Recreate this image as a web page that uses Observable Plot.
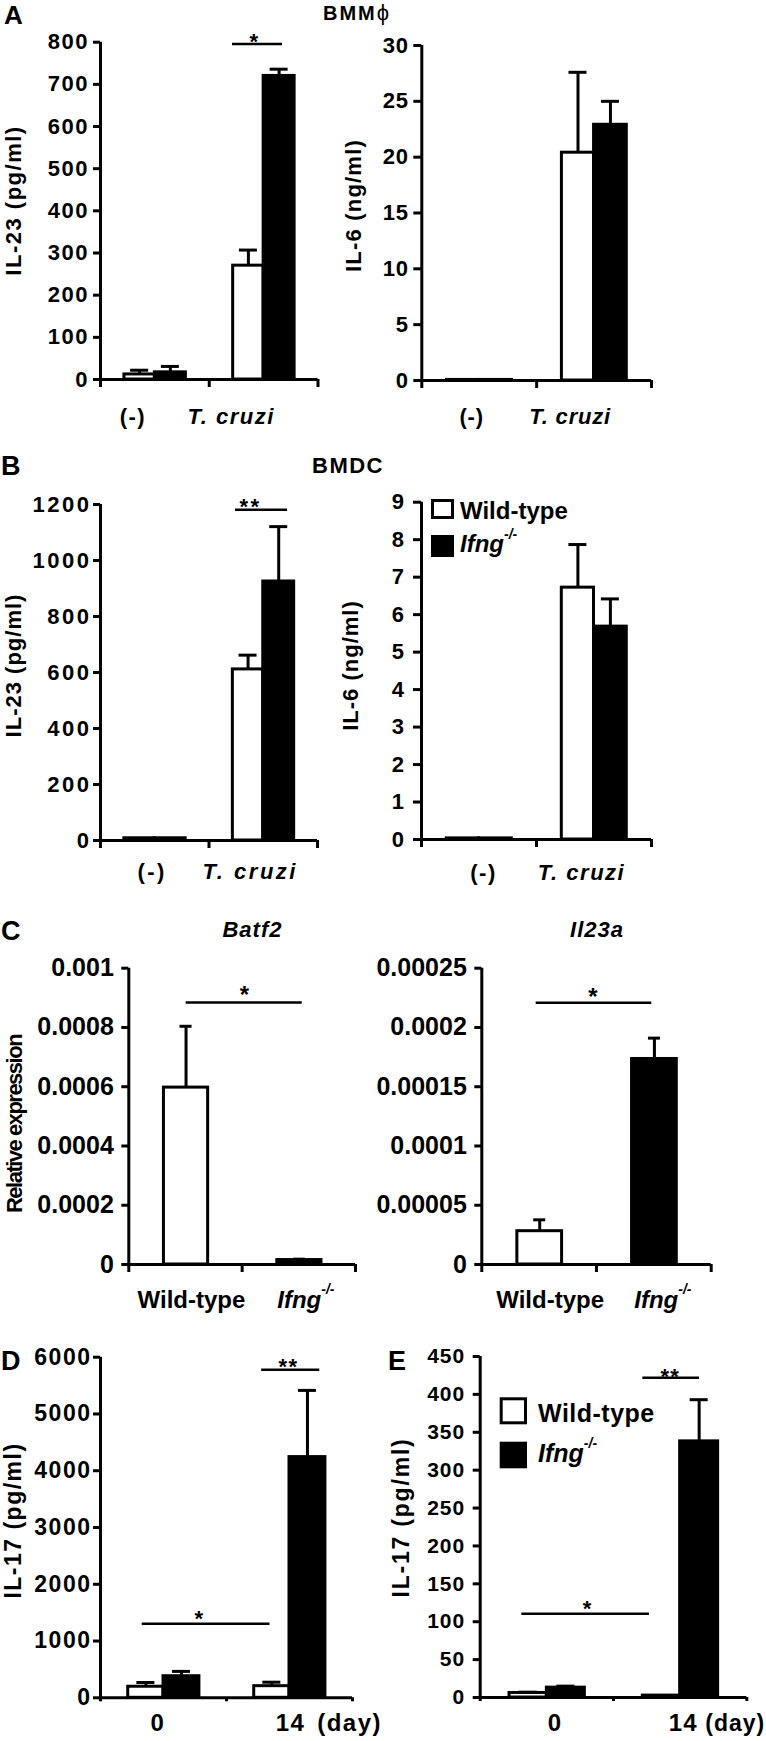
<!DOCTYPE html>
<html>
<head>
<meta charset="utf-8">
<script src="https://cdn.jsdelivr.net/npm/d3@7"></script>
<script src="https://cdn.jsdelivr.net/npm/@observablehq/plot@0.6"></script>
<style>
  body { margin: 0; background: #fff; }
  #fig { position: relative; width: 766px; height: 1741px; overflow: hidden; background: #fff; }
  #fig svg { position: absolute; overflow: visible; }
</style>
</head>
<body>
<div id="fig"></div>
<script>
// ---------------- DATA ----------------
const seriesNames = ["Wild-type", "Ifng-/-"];

// Panel A (BMMϕ)
const groupsStim = ["(-)", "T. cruzi"];
const aIL23Wt = [12, 270], aIL23WtErr = [10, 37];
const aIL23Ko = [17, 720], aIL23KoErr = [14, 16];
const aIL6Wt = [0.05, 20.4], aIL6WtErr = [0, 7.2];
const aIL6Ko = [0.05, 22.9], aIL6KoErr = [0, 2.1];
// Panel B (BMDC)
const bIL23Wt = [8, 611], bIL23WtErr = [0, 51];
const bIL23Ko = [8, 925], bIL23KoErr = [0, 196];
const bIL6Wt = [0.03, 6.72], bIL6WtErr = [0, 1.15];
const bIL6Ko = [0.03, 5.68], bIL6KoErr = [0, 0.74];
// Panel C (relative expression)
const groupsGeno = ["Wild-type", "Ifng-/-"];
const cBatf2 = [0.000597, 0.000015], cBatf2Err = [0.000207, 0.000003];
const cIl23a = [0.0000281, 0.0001734], cIl23aErr = [0.0000096, 0.0000176];
// Panels D, E (IL-17, days)
const groupsDay = ["0", "14"];
const dWt = [195, 205], dWtErr = [75, 70];
const dKo = [380, 4240], dKoErr = [85, 1175];
const eWt = [6, 2.5], eWtErr = [1, 0];
const eKo = [13, 338], eKoErr = [2, 55];

// Tick values
const ticksAIL23 = [0, 100, 200, 300, 400, 500, 600, 700, 800];
const ticksAIL6 = [0, 5, 10, 15, 20, 25, 30];
const ticksBIL23 = [0, 200, 400, 600, 800, 1000, 1200];
const ticksBIL6 = [0, 1, 2, 3, 4, 5, 6, 7, 8, 9];
const ticksBatf2 = [0, 0.0002, 0.0004, 0.0006, 0.0008, 0.001];
const ticksIl23a = [0, 0.00005, 0.0001, 0.00015, 0.0002, 0.00025];
const ticksD = [0, 1000, 2000, 3000, 4000, 5000, 6000];
const ticksE = [0, 50, 100, 150, 200, 250, 300, 350, 400, 450];

// Significance annotations (x in group units, y in value units)
const sigAIL23 = [{x1: 1.214, x2: 1.674, y: 796, sx: 1.416, sy: 814, label: "*"}];
const sigBIL23 = [{x1: 1.244, x2: 1.724, y: 1181, sx: 1.382, sy: 1211, label: "**"}];
const sigBatf2 = [{x1: 0.506, x2: 1.530, y: 0.000884, sx: 1.021, sy: 0.000929, label: "*"}];
const sigIl23a = [{x1: 0.474, x2: 1.482, y: 0.0002209, sx: 0.968, sy: 0.0002305, label: "*"}];
const sigD = [
  {x1: 0.331, x2: 1.345, y: 1303, sx: 0.786, sy: 1493, label: "*"},
  {x1: 1.279, x2: 1.740, y: 5780, sx: 1.493, sy: 5921, label: "**"}
];
const sigE = [
  {x1: 0.312, x2: 1.270, y: 110.4, sx: 0.805, sy: 124, label: "*"},
  {x1: 1.220, x2: 1.645, y: 421.9, sx: 1.425, sy: 430, label: "**"}
];

// ---------------- BUILD ----------------
const FONT = '"Liberation Sans", Arial, Helvetica, sans-serif';
const fig = document.getElementById("fig");

function pairedRows(groups, wt, wtErr, ko, koErr) {
  return groups.flatMap((g, i) => [
    {group: g, series: seriesNames[0], x1: i + 0.22, x2: i + 0.5, value: wt[i], err: wtErr[i]},
    {group: g, series: seriesNames[1], x1: i + 0.5, x2: i + 0.785, value: ko[i], err: koErr[i]}
  ]);
}
function singleRows(groups, vals, errs) {
  return groups.map((g, i) => ({group: g, series: seriesNames[i], x1: i + 0.31, x2: i + 0.70, value: vals[i], err: errs[i]}));
}

function fixIfng(root) {
  const ns = "http://www.w3.org/2000/svg";
  root.querySelectorAll("text").forEach(t => {
    if (t.textContent === "Ifng-/-" && t.children.length === 0) {
      t.textContent = "";
      const a = document.createElementNS(ns, "tspan");
      a.setAttribute("font-style", "italic");
      a.textContent = "Ifng";
      const b = document.createElementNS(ns, "tspan");
      b.setAttribute("font-style", "italic");
      b.setAttribute("font-size", "0.58em");
      b.setAttribute("dy", "-0.95em");
      b.textContent = "-/-";
      t.append(a, b);
    }
  });
}

function makePanel(c) {
  const n = c.groups.length;
  const unitPx = (c.right - c.axisX) / n;
  const cap = c.capPx / unitPx;
  const frameMid = (c.yTop + c.yBase) / 2;
  const rows = c.rows;
  const withErr = rows.filter(d => d.err > 0);
  const cx = d => (d.x1 + d.x2) / 2;
  const marks = [
    Plot.ruleX(withErr, {x: cx, y1: "value", y2: d => d.value + d.err, stroke: "black", strokeWidth: 3}),
    Plot.ruleY(withErr, {y: d => d.value + d.err, x1: d => cx(d) - cap, x2: d => cx(d) + cap, stroke: "black", strokeWidth: 3}),
    Plot.rect(rows, {x1: "x1", x2: "x2", y1: 0, y2: "value", fill: "series", stroke: "black", strokeWidth: 3}),
    Plot.ruleY([0], {stroke: "black", strokeWidth: 3}),
    Plot.ruleX([0], {stroke: "black", strokeWidth: 3}),
    Plot.axisY({ticks: c.ticks, tickFormat: d => String(d), tickSize: c.tickSize, tickPadding: c.tickPadding, strokeWidth: 3, label: null}),
    Plot.axisX({ticks: d3.range(n + 1), tickFormat: () => "", tickSize: c.xTickSize, strokeWidth: 3, label: null})
  ];
  c.groups.forEach((g, i) => {
    marks.push(Plot.text([g], {
      x: () => i + 0.5, y: () => 0, text: d => d,
      dx: c.labelDx[i], dy: c.labelBase - c.yBase,
      lineAnchor: "bottom", textAnchor: "middle",
      fontSize: c.labelFont, fontStyle: g === "T. cruzi" ? "italic" : "normal"
    }));
  });
  if (c.unit) {
    marks.push(Plot.text([c.unit], {
      x: () => n, y: () => 0, text: d => d, dx: c.unitDx, dy: c.labelBase - c.yBase,
      lineAnchor: "bottom", textAnchor: "start", fontSize: c.unitFont
    }));
  }
  if (c.yLabel) {
    marks.push(Plot.text([c.yLabel], {
      frameAnchor: "left", text: d => d, rotate: -90,
      dx: c.yLabelX - c.axisX, dy: c.yLabelY - frameMid,
      textAnchor: "middle", lineAnchor: "middle", fontSize: c.yLabelFont
    }));
  }
  if (c.sig) {
    marks.push(Plot.ruleY(c.sig, {y: "y", x1: "x1", x2: "x2", stroke: "black", strokeWidth: 2.5}));
    marks.push(Plot.text(c.sig, {x: "sx", y: "sy", text: "label", lineAnchor: "middle", dy: 0.26 * c.starFont, fontSize: c.starFont}));
  }
  const svg = Plot.plot({
    width: c.svgW,
    height: c.svgBottom - c.svgTop,
    marginLeft: c.axisX - c.colX,
    marginRight: c.colX + c.svgW - c.right,
    marginTop: c.yTop - c.svgTop,
    marginBottom: c.svgBottom - c.yBase,
    x: {type: "linear", domain: [0, n]},
    y: {type: "linear", domain: [0, c.yMax]},
    color: {type: "ordinal", domain: seriesNames, range: ["white", "black"]},
    style: {
      fontFamily: FONT, fontSize: c.fontSize + "px", fontWeight: "bold",
      letterSpacing: c.ls + "px", color: "black", background: "transparent", overflow: "visible"
    },
    marks
  });
  svg.style.left = c.colX + "px";
  svg.style.top = c.svgTop + "px";
  svg.style.position = "absolute";
  if (c.yLabelLs !== undefined) {
    svg.querySelectorAll("text").forEach(t => {
      if (t.textContent === c.yLabel) t.setAttribute("letter-spacing", c.yLabelLs + "px");
    });
  }
  fixIfng(svg);
  fig.appendChild(svg);
}

const L = {colX: 0, svgW: 383};
const R = {colX: 330, svgW: 436};

// A left
makePanel({...L, axisX: 100, right: 317.5, yTop: 41.7, yBase: 379, svgTop: 20, svgBottom: 445,
  groups: groupsStim, rows: pairedRows(groupsStim, aIL23Wt, aIL23WtErr, aIL23Ko, aIL23KoErr),
  yMax: 800, ticks: ticksAIL23, tickSize: 7, tickPadding: 4.5, xTickSize: 8, fontSize: 22, ls: 1.5,
  labelBase: 423, labelDx: [-22, -32.5], labelFont: 22,
  yLabel: "IL-23 (pg/ml)", yLabelX: 13, yLabelY: 200, yLabelFont: 22,
  capPx: 9, sig: sigAIL23, starFont: 22});
// A right
makePanel({...R, axisX: 421.3, right: 651, yTop: 45, yBase: 380, svgTop: 20, svgBottom: 445,
  groups: groupsStim, rows: pairedRows(groupsStim, aIL6Wt, aIL6WtErr, aIL6Ko, aIL6KoErr),
  yMax: 30, ticks: ticksAIL6, tickSize: 8, tickPadding: 5, xTickSize: 8, fontSize: 22, ls: 0.8,
  labelBase: 423, labelDx: [-7.6, -24], labelFont: 22,
  yLabel: "IL-6 (ng/ml)", yLabelX: 353, yLabelY: 205, yLabelFont: 22, yLabelLs: 1.2,
  capPx: 9});
// B left
makePanel({...L, axisX: 100, right: 317, yTop: 504, yBase: 840, svgTop: 485, svgBottom: 900,
  groups: groupsStim, rows: pairedRows(groupsStim, bIL23Wt, bIL23WtErr, bIL23Ko, bIL23KoErr),
  yMax: 1200, ticks: ticksBIL23, tickSize: 7, tickPadding: 2, xTickSize: 8, fontSize: 22, ls: 2.5,
  labelBase: 878, labelDx: [-2.6, -13], labelFont: 22,
  yLabel: "IL-23 (pg/ml)", yLabelX: 13, yLabelY: 665, yLabelFont: 22, yLabelLs: 1,
  capPx: 9, sig: sigBIL23, starFont: 22});
// B right
makePanel({...R, axisX: 421, right: 651, yTop: 501.7, yBase: 839, svgTop: 485, svgBottom: 900,
  groups: groupsStim, rows: pairedRows(groupsStim, bIL6Wt, bIL6WtErr, bIL6Ko, bIL6KoErr),
  yMax: 9, ticks: ticksBIL6, tickSize: 8, tickPadding: 8, xTickSize: 8, fontSize: 22, ls: 1.5,
  labelBase: 879, labelDx: [4.5, -12.5], labelFont: 22,
  yLabel: "IL-6 (ng/ml)", yLabelX: 350, yLabelY: 665, yLabelFont: 22, yLabelLs: 1,
  capPx: 9});
// C left
makePanel({...L, axisX: 128.3, right: 355, yTop: 967.7, yBase: 1264, svgTop: 950, svgBottom: 1320,
  groups: groupsGeno, rows: singleRows(groupsGeno, cBatf2, cBatf2Err),
  yMax: 0.001, ticks: ticksBatf2, tickSize: 7, tickPadding: 8, xTickSize: 8, fontSize: 25, ls: 0,
  labelBase: 1307, labelDx: [6, 7], labelFont: 24,
  yLabel: "Relative expression", yLabelX: 14, yLabelY: 1123.5, yLabelFont: 22, yLabelLs: -1.5,
  capPx: 6, sig: sigBatf2, starFont: 24});
// C right
makePanel({...R, axisX: 481.3, right: 710.7, yTop: 967.7, yBase: 1264, svgTop: 950, svgBottom: 1320,
  groups: groupsGeno, rows: singleRows(groupsGeno, cIl23a, cIl23aErr),
  yMax: 0.00025, ticks: ticksIl23a, tickSize: 7, tickPadding: 8, xTickSize: 8, fontSize: 25, ls: 0,
  labelBase: 1307, labelDx: [11, 9], labelFont: 24,
  capPx: 6, sig: sigIl23a, starFont: 24});
// D
makePanel({...L, axisX: 100, right: 352, yTop: 1356.7, yBase: 1697.3, svgTop: 1340, svgBottom: 1741,
  groups: groupsDay, rows: pairedRows(groupsDay, dWt, dWtErr, dKo, dKoErr),
  yMax: 6000, ticks: ticksD, tickSize: 7, tickPadding: 2, xTickSize: 4, fontSize: 23, ls: 1.5,
  labelBase: 1730, labelDx: [-5.5, 1], labelFont: 24, unit: "(day)", unitDx: -35.3, unitFont: 24,
  yLabel: "IL-17 (pg/ml)", yLabelX: 13, yLabelY: 1520, yLabelFont: 23,
  capPx: 9, sig: sigD, starFont: 22});
// E
makePanel({...R, axisX: 479.7, right: 746.3, yTop: 1356, yBase: 1697, svgTop: 1340, svgBottom: 1741,
  groups: groupsDay, rows: pairedRows(groupsDay, eWt, eWtErr, eKo, eKoErr),
  yMax: 450, ticks: ticksE, tickSize: 7, tickPadding: 8, xTickSize: 4, fontSize: 21, ls: 1,
  labelBase: 1730, labelDx: [8, 3], labelFont: 24, unit: "(day)", unitDx: -41.5, unitFont: 23,
  yLabel: "IL-17 (pg/ml)", yLabelX: 401, yLabelY: 1517, yLabelFont: 23, yLabelLs: 1.8,
  capPx: 9, sig: sigE, starFont: 22});

// ---------------- Panel letters, titles and legends ----------------
const sup = (fs) => `<tspan font-style="italic">Ifng</tspan><tspan font-style="italic" font-size="${Math.round(fs * 0.58)}" dy="${-Math.round(fs * 0.55)}">-/-</tspan>`;
const overlay = `
<svg width="766" height="1741" style="left:0;top:0;font-family:${FONT.replace(/"/g, "'")};font-weight:bold">
  <text x="4" y="24" font-size="26">A</text>
  <text x="323" y="20" font-size="20" letter-spacing="2">BMM<tspan font-weight="normal" font-size="22">ϕ</tspan></text>
  <text x="1" y="475" font-size="27">B</text>
  <text x="312" y="473" font-size="22" letter-spacing="1.5">BMDC</text>
  <text x="1" y="940" font-size="27">C</text>
  <text x="252.5" y="937" font-size="22" letter-spacing="1" text-anchor="middle" font-style="italic">Batf2</text>
  <text x="597" y="937" font-size="22" letter-spacing="1" text-anchor="middle" font-style="italic">Il23a</text>
  <text x="1" y="1370" font-size="27">D</text>
  <text x="388" y="1370" font-size="27">E</text>

  <rect x="432.5" y="500.5" width="20" height="17" fill="white" stroke="black" stroke-width="3"/>
  <text x="460" y="519" font-size="24">Wild-type</text>
  <rect x="431" y="535" width="23" height="22" fill="black"/>
  <text x="460" y="552" font-size="24">${sup(24)}</text>

  <rect x="501.2" y="1398.8" width="24.3" height="24" fill="white" stroke="black" stroke-width="3"/>
  <text x="538" y="1421.7" font-size="25" letter-spacing="0.5">Wild-type</text>
  <rect x="499.7" y="1441.7" width="27.3" height="26.6" fill="black"/>
  <text x="538" y="1461.7" font-size="25">${sup(25)}</text>
</svg>`;
fig.insertAdjacentHTML("beforeend", overlay);
</script>
</body>
</html>
